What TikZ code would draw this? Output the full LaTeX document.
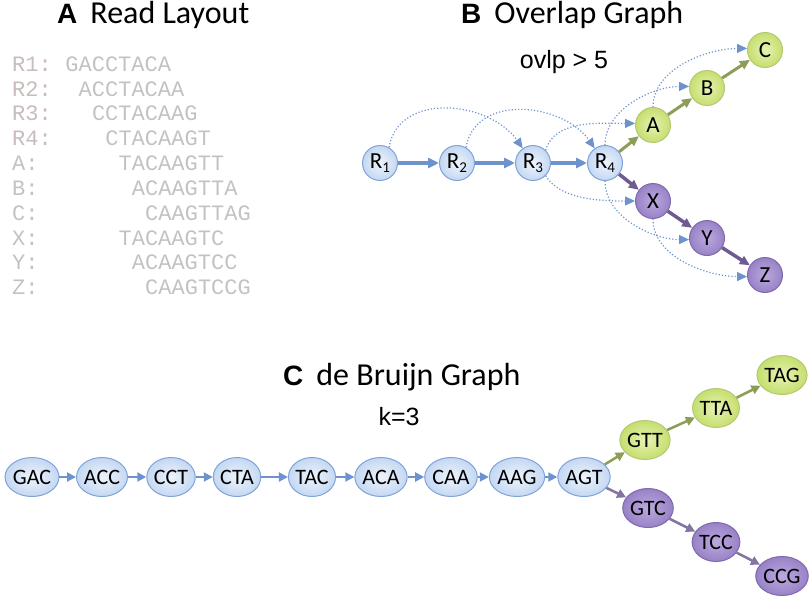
\documentclass[tikz,border=0pt]{standalone}
\usepackage{fontspec}
\setmainfont{Carlito}
\newfontfamily\arial{Liberation Sans}
\newfontfamily\mono{Liberation Mono}
\usetikzlibrary{arrows.meta,shapes.geometric}
\definecolor{seqgray}{HTML}{C2C2C2}
\definecolor{labgray}{HTML}{C8BCBC}
\definecolor{bluearr}{HTML}{6D93CF}
\definecolor{greenarr}{HTML}{8C9D56}
\definecolor{purparr}{HTML}{6E5B92}
\definecolor{bin}{HTML}{EEF4FC}
\definecolor{bout}{HTML}{C4D8F2}
\definecolor{bdraw}{HTML}{7FA3D8}
\definecolor{gin}{HTML}{E6F3B4}
\definecolor{gout}{HTML}{C6DE6E}
\definecolor{gdraw}{HTML}{B2C977}
\definecolor{pin}{HTML}{BBA9DF}
\definecolor{pout}{HTML}{9882C6}
\definecolor{pdraw}{HTML}{7E6AAE}
\tikzset{
  ttl/.style={anchor=west, inner sep=0, font=\fontsize{32}{32}\selectfont},
  sub/.style={inner sep=0, font=\arial\fontsize{25}{25}\selectfont},
  seqlab/.style={anchor=west, inner sep=0, font=\mono\fontsize{22}{22}\selectfont},
  ov/.style={circle, minimum size=35pt, inner sep=0, line width=1pt, font=\fontsize{23}{23}\selectfont},
  db/.style={ellipse, minimum width=47pt, minimum height=39pt, inner sep=0, line width=1pt, font=\fontsize{22}{22}\selectfont},
  bn/.style={shade, inner color=bin, outer color=bout, draw=bdraw},
  gn/.style={shade, inner color=gin, outer color=gout, draw=gdraw},
  pn/.style={shade, inner color=pin, outer color=pout, draw=pdraw},
  barr/.style={-{Triangle[length=11pt,width=10pt]}, line width=3.5pt, draw=bluearr},
  garr/.style={-{Triangle[length=10pt,width=9pt]}, line width=3pt, draw=greenarr},
  parr/.style={-{Triangle[length=10pt,width=9pt]}, line width=3.5pt, draw=purparr},
  dotarr/.style={-{Triangle[length=10pt,width=9pt]}, line width=1.2pt, dash pattern=on 1.2pt off 2pt, draw=bluearr},
  dbarr/.style={-{Triangle[length=9pt,width=9pt]}, line width=2pt},
}
\newcommand{\Rsub}[1]{R\raisebox{-4pt}{\fontsize{15}{15}\selectfont #1}}
\newcommand{\panel}[1]{{\arial\bfseries\fontsize{28}{28}\selectfont #1}}
\begin{document}
\begin{tikzpicture}[x=1pt,y=1pt]
\useasboundingbox (0,0) rectangle (812,-597);
% titles
\node[ttl] (ta) at (57,-15) {\panel{A}\hspace{13pt}Read Layout};
\node[ttl] (tb) at (461,-15) {\panel{B}\hspace{13pt}Overlap Graph};
\node[ttl] (tc) at (283,-377) {\panel{C}\hspace{13pt}de Bruijn Graph};
\node[sub] (ovlp) at (564,-62) {ovlp > 5};
\node[sub] (k3) at (399,-417) {k=3};
% read layout
\foreach \lab/\col/\sq/\yy/\lc [count=\i] in {R1:/4/GACCTACA/64/labgray, R2:/5/ACCTACAA/89/labgray, R3:/6/CCTACAAG/113/labgray, R4:/7/CTACAAGT/138/labgray, A:/8/TACAAGTT/163/seqgray, B:/9/ACAAGTTA/188/seqgray, C:/10/CAAGTTAG/213/seqgray, X:/8/TACAAGTC/238/seqgray, Y:/9/ACAAGTCC/262/seqgray, Z:/10/CAAGTCCG/287/seqgray}{
  \node[seqlab, text=\lc] (l\i) at (12,-\yy) {\lab};
  \node[seqlab, text=seqgray] (s\i) at ({12+13.3*\col},-\yy) {\sq};
}
% overlap graph
\node[ov,bn] (R1) at (380,-163) {\Rsub{1}};
\node[ov,bn] (R2) at (457,-163) {\Rsub{2}};
\node[ov,bn] (R3) at (533,-163) {\Rsub{3}};
\node[ov,bn] (R4) at (605,-163) {\Rsub{4}};
\node[ov,gn] (A) at (653,-125) {A};
\node[ov,gn] (B) at (707,-88) {B};
\node[ov,gn] (C) at (765,-50) {C};
\node[ov,pn] (X) at (653,-201) {X};
\node[ov,pn] (Y) at (707,-238) {Y};
\node[ov,pn] (Z) at (765,-275) {Z};
\draw[dotarr] (R1.60) to[out=80,in=125,looseness=1.1] (R3.125);
\draw[dotarr] (R2.60) to[out=80,in=125,looseness=1.1] (R4.125);
\draw[dotarr] (R3.45) to[out=75,in=180,looseness=0.9] (A.175);
\draw[dotarr] (R3.-45) to[out=-60,in=180,looseness=0.8] (X.180);
\draw[dotarr] (R4.90) to[out=90,in=180,looseness=0.9] (B.175);
\draw[dotarr] (A.90) to[out=90,in=180,looseness=0.9] (C.175);
\draw[dotarr] (R4.-90) to[out=-90,in=180,looseness=0.9] (Y.185);
\draw[dotarr] (X.-90) to[out=-90,in=180,looseness=0.9] (Z.185);
\draw[barr] (R1) -- (R2);
\draw[barr] (R2) -- (R3);
\draw[barr] (R3) -- (R4);
\draw[garr] (R4) -- (A);
\draw[garr] (A) -- (B);
\draw[garr] (B) -- (C);
\draw[parr] (R4) -- (X);
\draw[parr] (X) -- (Y);
\draw[parr] (Y) -- (Z);
% de Bruijn graph
\node[db,bn] (GAC) at (32,-477) {GAC};
\node[db,bn] (ACC) at (102,-477) {ACC};
\node[db,bn] (CCT) at (171,-477) {CCT};
\node[db,bn] (CTA) at (237,-477) {CTA};
\node[db,bn] (TAC) at (312,-477) {TAC};
\node[db,bn] (ACA) at (381,-477) {ACA};
\node[db,bn] (CAA) at (451,-477) {CAA};
\node[db,bn] (AAG) at (517,-477) {AAG};
\node[db,bn] (AGT) at (584,-477) {AGT};
\node[db,gn] (GTT) at (645,-440) {GTT};
\node[db,gn] (TTA) at (716,-408) {TTA};
\node[db,gn] (TAG) at (782,-375) {TAG};
\node[db,pn] (GTC) at (648,-508) {GTC};
\node[db,pn] (TCC) at (716,-542) {TCC};
\node[db,pn] (CCG) at (782,-576) {CCG};
\foreach \a/\b in {GAC/ACC, ACC/CCT, CCT/CTA, CTA/TAC, TAC/ACA, ACA/CAA, CAA/AAG, AAG/AGT}
  \draw[dbarr, draw=bluearr] (\a) -- (\b);
\foreach \a/\b in {AGT/GTT, GTT/TTA, TTA/TAG}
  \draw[dbarr, draw=greenarr, line width=2.5pt] (\a) -- (\b);
\foreach \a/\b in {AGT/GTC, GTC/TCC, TCC/CCG}
  \draw[dbarr, draw=purparr!85, line width=2.5pt] (\a) -- (\b);
\end{tikzpicture}
\end{document}
